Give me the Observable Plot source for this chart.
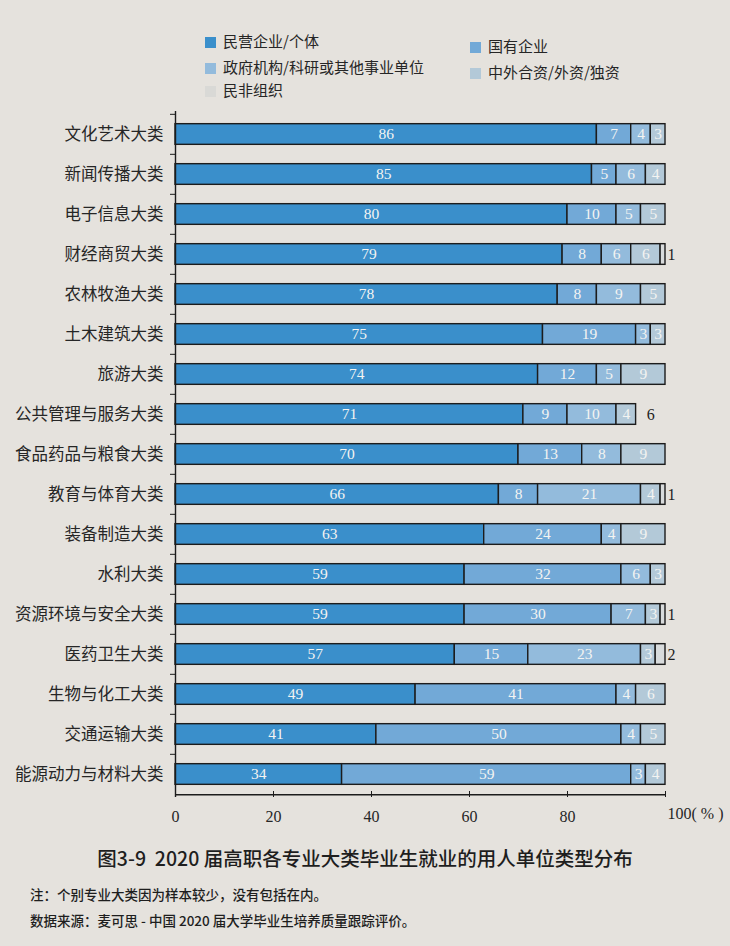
<!DOCTYPE html>
<html>
<head>
<meta charset="utf-8">
<script src="https://cdn.jsdelivr.net/npm/d3@7"></script>
<script src="https://cdn.jsdelivr.net/npm/@observablehq/plot@0.6"></script>
<style>
  html, body { margin: 0; padding: 0; background: #e5e2dd; }
  body { width: 730px; height: 946px; position: relative; overflow: hidden;
         font-family: "Noto Sans CJK SC", sans-serif; color: #262626; }
  #legend { position: absolute; left: 0; top: 0; width: 730px; height: 100px; }
  .li { position: absolute; font-size: 15px; line-height: 18px; white-space: nowrap; }
  .sw { display: inline-block; width: 11px; height: 11px; margin-right: 7px; vertical-align: -1px; }
  #chart { position: absolute; left: 0; top: 100px; }
  #caption { position: absolute; left: 0; width: 730px; top: 843px; text-align: center;
             font-size: 19.5px; font-weight: 500; color: #1e1e1e; }
  .note { position: absolute; left: 30px; font-size: 13.5px; font-weight: 500; color: #1e1e1e; }
</style>
</head>
<body>
<div id="legend"></div>
<div id="chart"></div>
<div id="caption">图3-9&nbsp;&nbsp;2020 届高职各专业大类毕业生就业的用人单位类型分布</div>
<div class="note" style="top:884px">注：个别专业大类因为样本较少，没有包括在内。</div>
<div class="note" style="top:910px">数据来源：麦可思 - 中国 2020 届大学毕业生培养质量跟踪评价。</div>
<script>
const categories = ["文化艺术大类","新闻传播大类","电子信息大类","财经商贸大类","农林牧渔大类","土木建筑大类","旅游大类","公共管理与服务大类","食品药品与粮食大类","教育与体育大类","装备制造大类","水利大类","资源环境与安全大类","医药卫生大类","生物与化工大类","交通运输大类","能源动力与材料大类"];
const types = ["民营企业/个体","国有企业","政府机构/科研或其他事业单位","中外合资/外资/独资","民非组织"];
const privateEnt  = [86,85,80,79,78,75,74,71,70,66,63,59,59,57,49,41,34];
const stateOwned  = [7,5,10,8,8,19,12,9,13,8,24,32,30,15,41,50,59];
const government  = [4,6,5,6,9,3,5,10,8,21,4,6,7,23,4,4,3];
const foreignEnt  = [3,4,5,6,5,3,9,4,9,4,9,3,3,3,6,5,4];
const nonProfit   = [0,0,0,1,0,0,0,6,0,1,0,0,1,2,0,0,0];
const xTicks = [0,20,40,60,80,100];
const colors = ["#3a8fcb","#72a9d7","#93bbdc","#b3c9d8","#d8dbdc"];

const series = [privateEnt, stateOwned, government, foreignEnt, nonProfit];
const data = categories.flatMap((c, i) => types.map((t, j) => ({category: c, type: t, value: series[j][i]})));

// legend
const legendPos = [[205,32],[470,37],[205,58],[470,63],[205,81]];
const legend = document.getElementById("legend");
types.forEach((t, j) => {
  const d = document.createElement("div");
  d.className = "li";
  d.style.left = legendPos[j][0] + "px";
  d.style.top = legendPos[j][1] + "px";
  d.innerHTML = `<span class="sw" style="background:${j === 4 ? "#d9d9d6" : colors[j]}"></span>${t}`;
  legend.appendChild(d);
});

const H = 732, mt = 11, mb = 35;
const step = (H - mt - mb) / categories.length;
const inset = (step - 21) / 2;
const serif = "Liberation Serif, Times New Roman, serif";

const plot = Plot.plot({
  width: 730, height: H,
  marginLeft: 175, marginRight: 65, marginTop: mt, marginBottom: mb,
  style: {background: "transparent", fontFamily: serif, color: "#222"},
  x: {domain: [0, 100], label: null},
  y: {domain: categories, padding: 0, label: null},
  color: {domain: types, range: colors},
  opacity: {domain: [0, 1], range: [0, 1]},
  marks: [
    Plot.barX(data, Plot.stackX({
      x: "value", y: "category", fill: "type", order: types,
      filter: d => d.value > 0,
      fillOpacity: d => (d.type === types[4] && d.value >= 5) ? 0 : 1,
      strokeOpacity: d => (d.type === types[4] && d.value >= 5) ? 0 : 1,
      stroke: "#1c1c1c", strokeWidth: 1.4, insetTop: inset, insetBottom: inset
    })),
    Plot.text(data, Plot.stackX({
      x: "value", y: "category", z: "type", order: types,
      text: d => (d.type !== types[4] && d.value > 0) ? String(d.value) : "",
      fill: "#f4f4f2", fontSize: 15.5, fontFamily: serif
    })),
    Plot.text(data, Plot.stackX({
      x: "value", y: "category", z: "type", order: types,
      text: d => (d.type === types[4] && d.value >= 5) ? String(d.value) : "",
      fill: "#1e1e1e", fontSize: 16, fontFamily: serif
    })),
    Plot.text(data, Plot.stackX2({
      x: "value", y: "category", z: "type", order: types,
      text: d => (d.type === types[4] && d.value > 0 && d.value < 5) ? String(d.value) : "",
      fill: "#1e1e1e", fontSize: 16, fontFamily: serif, textAnchor: "start", dx: 2
    })),
    Plot.ruleX([0], {stroke: "#1c1c1c", strokeWidth: 1.4}),
    Plot.ruleY([categories[categories.length - 1]], {dy: step / 2, stroke: "#1c1c1c", strokeWidth: 1.4}),
    Plot.axisY({tickSize: 0, tickPadding: 12, fontSize: 16.5, fontFamily: "Noto Sans CJK SC", fill: "#262626"}),
    Plot.axisY({tickSize: 5, text: null, dy: -step / 2, stroke: "#1c1c1c"}),
    Plot.axisX({ticks: xTicks.slice(1), tickSize: 6, dy: -6, text: null, stroke: "#1c1c1c"}),
    Plot.axisX({ticks: xTicks.slice(0, 5), tickSize: 0, tickPadding: 13, fontSize: 16, fontFamily: serif, fill: "#262626"}),
    Plot.axisX({ticks: xTicks.slice(5), tickSize: 0, tickPadding: 10, fontSize: 16, fontFamily: serif, fill: "#262626",
      tickFormat: d => d + "( % )", dx: 30})
  ]
});
document.getElementById("chart").appendChild(plot);
</script>
</body>
</html>
